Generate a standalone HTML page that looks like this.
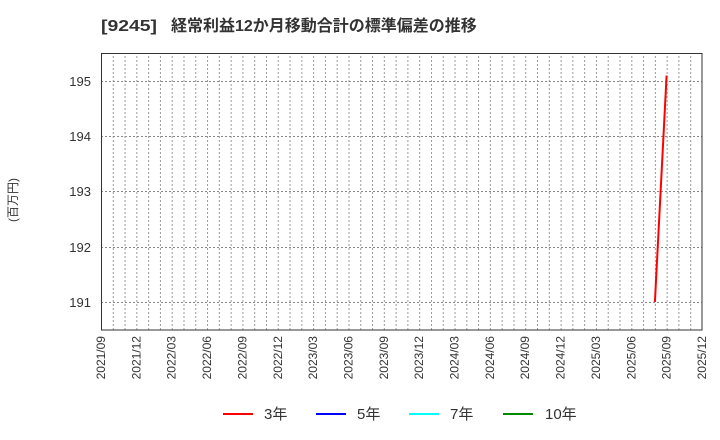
<!DOCTYPE html>
<html><head><meta charset="utf-8"><style>
body{margin:0;background:#fff;}
svg{display:block;font-family:"Liberation Sans","Noto Sans CJK JP",sans-serif;}
</style></head><body>
<svg width="720" height="440" viewBox="0 0 720 440">
<defs>
<pattern id="vg" x="101" y="0" width="11.7843" height="440" patternUnits="userSpaceOnUse">
<line x1="0.5" y1="0" x2="0.5" y2="440" stroke="#999" stroke-width="1" stroke-dasharray="2,2"/>
</pattern>
</defs>
<text x="101" y="31" font-size="16" font-weight="bold" fill="#333" textLength="56" lengthAdjust="spacingAndGlyphs">[9245]</text>
<text x="171" y="31" font-size="16" font-weight="bold" fill="#333">経常利益12か月移動合計の標準偏差の推移</text>
<rect x="101" y="53" width="601" height="277" fill="url(#vg)"/>
<g stroke="#888" stroke-width="1" stroke-dasharray="2,2">
<line x1="101" y1="81.5" x2="702" y2="81.5"/>
<line x1="101" y1="136.5" x2="702" y2="136.5"/>
<line x1="101" y1="191.5" x2="702" y2="191.5"/>
<line x1="101" y1="247.5" x2="702" y2="247.5"/>
<line x1="101" y1="302.5" x2="702" y2="302.5"/>
</g>
<rect x="101.5" y="53.5" width="600.5" height="276.5" fill="none" stroke="#333" stroke-width="1"/>
<g font-size="13" fill="#333" text-anchor="end">
<text x="91" y="86">195</text>
<text x="91" y="141">194</text>
<text x="91" y="196">193</text>
<text x="91" y="252">192</text>
<text x="91" y="307">191</text>
</g>
<text transform="translate(17,200) rotate(-90)" font-size="12" fill="#333" text-anchor="middle">(百万円)</text>
<g font-size="12" fill="#333" text-anchor="end">
<text transform="translate(105,336) rotate(-90)">2021/09</text>
<text transform="translate(140.4,336) rotate(-90)">2021/12</text>
<text transform="translate(175.7,336) rotate(-90)">2022/03</text>
<text transform="translate(211.1,336) rotate(-90)">2022/06</text>
<text transform="translate(246.4,336) rotate(-90)">2022/09</text>
<text transform="translate(281.8,336) rotate(-90)">2022/12</text>
<text transform="translate(317.1,336) rotate(-90)">2023/03</text>
<text transform="translate(352.5,336) rotate(-90)">2023/06</text>
<text transform="translate(387.8,336) rotate(-90)">2023/09</text>
<text transform="translate(423.2,336) rotate(-90)">2023/12</text>
<text transform="translate(458.5,336) rotate(-90)">2024/03</text>
<text transform="translate(493.9,336) rotate(-90)">2024/06</text>
<text transform="translate(529.2,336) rotate(-90)">2024/09</text>
<text transform="translate(564.6,336) rotate(-90)">2024/12</text>
<text transform="translate(599.9,336) rotate(-90)">2025/03</text>
<text transform="translate(635.3,336) rotate(-90)">2025/06</text>
<text transform="translate(670.6,336) rotate(-90)">2025/09</text>
<text transform="translate(706,336) rotate(-90)">2025/12</text>
</g>
<line x1="654.9" y1="302" x2="666.6" y2="75.5" stroke="#f00" stroke-width="2"/>
<g font-size="15" fill="#333">
<line x1="223" y1="414" x2="253" y2="414" stroke="#f00" stroke-width="2"/>
<text x="264" y="419">3年</text>
<line x1="316" y1="414" x2="346" y2="414" stroke="#00f" stroke-width="2"/>
<text x="357" y="419">5年</text>
<line x1="409" y1="414" x2="439" y2="414" stroke="#0ff" stroke-width="2"/>
<text x="450" y="419">7年</text>
<line x1="503" y1="414" x2="533" y2="414" stroke="#080" stroke-width="2"/>
<text x="545" y="419">10年</text>
</g>
</svg>
</body></html>
